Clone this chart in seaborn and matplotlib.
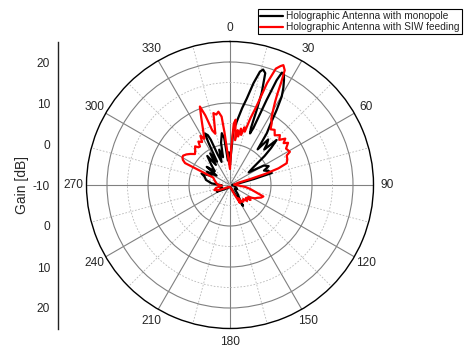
import numpy as np
import pandas as pd
import matplotlib
matplotlib.use("Agg")
import matplotlib.pyplot as plt
from matplotlib.ticker import FixedLocator
from matplotlib.lines import Line2D
import seaborn as sns

# ---- data (angle in degrees, gain in dB) ----
mono_theta = [0, 2, 3.5, 5, 7, 9, 11, 13, 14.8, 16, 17.5, 19, 19.6, 20.2, 21.2,
              22.3, 23.3, 24, 24.8, 26, 27.2, 28.8, 30.3, 31.9, 33.5, 35.4, 37.8,
              40, 42, 44, 46, 48, 50, 53, 56, 60, 64, 67, 70, 74, 76, 80, 85, 90, 100,
              110, 120, 130, 140, 145, 148, 151, 160, 170, 180, 200, 220, 235, 243,
              250, 260, 268, 275, 282, 288, 292, 296, 300, 305, 308, 312, 318, 322,
              325, 328, 331, 333, 334, 336, 337, 338, 340, 343, 346, 348, 351, 353,
              355, 358, 360]
mono_gain = [-5, -2, 3, 4.5, 6.5, 9, 11.5, 15.5, 18.6, 19.3, 18.6, 13.7, 9.4, 4.7, 3.5,
             5, 12.6, 18, 20.2, 20, 18.8, 17, 15, 11.5, 8, 5.5, 1,
             4.5, 3.5, 2, 5.8, 3.5, 1, -3, -4.5, -0.5, 0.5, -1, 0, 0.6, -4, -8, -9, -9.5, -9,
             -8.5, -8, -8.5, -7, -6, -4, -7, -9, -9.5, -9.5, -9.5, -9, -8, -6.4,
             -8, -7.5, -8, -5.5, -4, -3.5, -2.5, -5, -3.5, -6, -2.8, -5, -3, -1,
             -4, -0.9, -3.5, 1.5, 4, 3.3, 2, -2, -4, -1, -3, 0.5, 2.8, 1.5,
             -4, -2, -5]

siw_theta = [0, 2, 3.5, 5, 6.5, 8, 9.5, 11, 12.5, 14, 15.5, 17, 18.5, 20, 21.5, 23,
             24, 25.5, 26.5, 27.5, 28.5, 30, 32, 34, 36, 39, 42, 45, 47.5, 50, 52,
             54, 57, 61, 62.5, 66, 69, 71, 72.5, 73.5, 75, 85, 93, 97, 101, 105, 109,
             112, 115, 118, 121, 123, 126, 129, 133, 137, 141, 145, 148, 151, 155,
             160, 180, 200, 230, 245, 252, 258, 265, 272, 280, 288, 294, 296, 298,
             300, 302, 305, 308, 311.5, 315, 318, 320, 322, 324, 327, 329, 331, 334,
             337, 339, 340.5, 342, 344, 345.5, 347, 349, 351, 353, 354, 356, 358, 360]
siw_gain = [-6, -1, 5, 6, 1, 3.5, 2, 4, 2.5, 4.5, 3.5, 7, 10, 16.5, 20.5, 21.5,
            22, 21, 18, 15, 13, 11, 9, 8.2, 6.8, 7.3, 6.3, 7.2, 6.3, 7.6, 6.6,
            7.5, 6.3, 6.7, 5.6, 5.3, 4.8, 2.5, -1, -4.5, -8, -9, -8, -6.3, -5, -3.7, -1.4,
            -1.8, -2.6, -3.1, -4, -4.7, -3.8, -5, -4.3, -5.3, -4.8, -5, -6.2, -5, -7.5,
            -9, -9.5, -9.5, -9, -7, -6, -6.5, -8, -7, -6.5, -6, -5.5, 2.2, 3,
            3.4, 3.5, 3, 2.3, 1.4, 2, 2.7, 2, 1.9, 3.1, 2.5, 4, 2.9, 5,
            8, 10.5, 8, 4, 3, 5, 8, 7.5, 8.1, 6.8, 3, -3, -5, -6]

angle_ticks = [0, 30, 60, 90, 120, 150, 180, 210, 240, 270, 300, 330]
gain_ticks = [-30, -20, -10, 0, 10, 20, 30]
gain_tick_labels = ["20", "10", "0", "-10", "0", "10", "20"]
series_names = ["Holographic Antenna with monopole", "Holographic Antenna with SIW feeding"]

sns.set_style("white")
plt.rcParams["font.family"] = ["Liberation Sans", "DejaVu Sans"]

df = pd.concat([
    pd.DataFrame({"theta": np.deg2rad(mono_theta), "gain": mono_gain, "series": series_names[0]}),
    pd.DataFrame({"theta": np.deg2rad(siw_theta), "gain": siw_gain, "series": series_names[1]}),
], ignore_index=True)

W, H = 465, 350
fig = plt.figure(figsize=(W / 100, H / 100), dpi=100)
cx, cy, R = 230, 185, 143.5
ax = fig.add_axes([(cx - R) / W, (H - cy - R) / H, 2 * R / W, 2 * R / H], projection="polar")
ax.set_theta_zero_location("N")
ax.set_theta_direction(-1)

sns.lineplot(data=df, x="theta", y="gain", hue="series", sort=False, estimator=None,
             palette={series_names[0]: "#000000", series_names[1]: "#ff0000"},
             linewidth=1.6, ax=ax, legend=False)

ax.set_rlim(-10, 25)
ax.set_yticks([0, 10, 20])
ax.yaxis.set_minor_locator(FixedLocator([-5, 5, 15]))
ax.set_yticklabels([])
ax.set_xticks(np.deg2rad(angle_ticks))
ax.set_xticklabels([str(a) for a in angle_ticks], fontsize=8.6)
ax.xaxis.set_minor_locator(FixedLocator(np.deg2rad(np.arange(15, 360, 30))))
ax.tick_params(axis="x", which="both", length=0, pad=2.5)
ax.tick_params(axis="y", which="both", length=0)
ax.grid(which="major", color="#808080", linewidth=0.8, linestyle="-")
ax.grid(which="minor", color="#b8b8b8", linewidth=0.6, linestyle=(0, (2, 2)))
ax.set_axisbelow(True)
ax.spines["polar"].set_color("black")
ax.spines["polar"].set_linewidth(1.0)
ax.set_xlabel("")
ax.set_ylabel("")

# left linear gain axis
ax2 = fig.add_axes([58.3 / W, (H - cy - R) / H, 0.0001, 2 * R / H])
ax2.set_facecolor("none")
for s in ["top", "right", "bottom"]:
    ax2.spines[s].set_visible(False)
ax2.spines["left"].set_color("#222222")
ax2.spines["left"].set_linewidth(1.0)
ax2.set_ylim(-35, 35)
ax2.set_yticks(gain_ticks)
ax2.set_yticklabels(gain_tick_labels, fontsize=8.6)
ax2.yaxis.set_minor_locator(FixedLocator([-35, -25, -15, -5, 5, 15, 25, 35]))
ax2.tick_params(axis="y", which="major", direction="out", length=4, width=0.8, pad=2, color="#222222")
ax2.tick_params(axis="y", which="minor", direction="out", length=2.5, width=0.8, color="#222222")
ax2.set_xticks([])
ax2.set_ylabel("Gain [dB]", fontsize=10, labelpad=3)

# legend
handles = [Line2D([], [], color="#000000", lw=1.6), Line2D([], [], color="#ff0000", lw=1.6)]
leg = fig.legend(handles, series_names, loc="upper right",
                 bbox_to_anchor=(461.7 / W, 1 - 9.3 / H), fontsize=7.3,
                 frameon=True, fancybox=False, edgecolor="black", framealpha=1,
                 handlelength=2.2, handletextpad=0.35, borderpad=0.2, labelspacing=0.1,
                 borderaxespad=0)
leg.get_frame().set_linewidth(0.8)

fig.savefig("out.png", dpi=100)
